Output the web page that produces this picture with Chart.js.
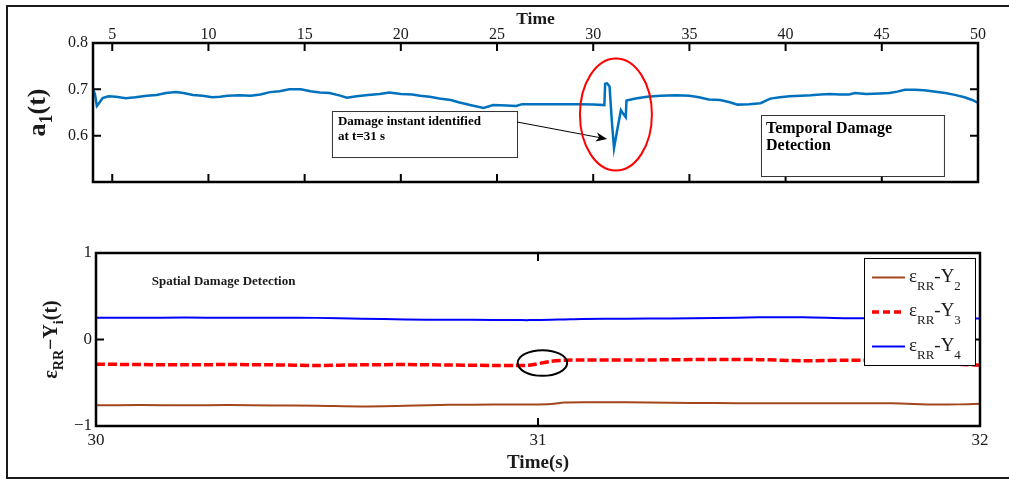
<!DOCTYPE html>
<html>
<head>
<meta charset="utf-8">
<title>Damage detection</title>
<script src="https://cdn.jsdelivr.net/npm/chart.js@4.4.1/dist/chart.umd.min.js"></script>
<style>
  html, body { margin: 0; padding: 0; background: #fff; }
  body { position: relative; width: 1009px; height: 481px; overflow: hidden; }
  #frame { position: absolute; left: 6px; top: 5px; width: 1010px; height: 470px;
           border: 2px solid #1a1a1a; border-right: none; }
  canvas { position: absolute; left: 0; }
  #a1Chart { top: 0; }
  #errChart { top: 230px; }
</style>
</head>
<body>
<div id="frame"></div>
<canvas id="a1Chart" width="1009" height="230"></canvas>
<canvas id="errChart" width="1009" height="251"></canvas>
<script>
// upper panel: identified coefficient a1(t)
const a1Time = [
  4.0, 4.1, 4.2, 4.35, 4.5, 4.8, 5.2, 5.7, 6.2, 6.8,
  7.3, 7.8, 8.3, 8.7, 9.2, 9.7, 10.2, 10.6, 11.0, 11.6,
  12.2, 12.7, 13.2, 13.7, 14.2, 14.8, 15.3, 15.8, 16.3, 16.8,
  17.2, 17.7, 18.3, 18.9, 19.4, 20.0, 20.6, 21.0, 21.5, 22.0,
  22.6, 23.0, 23.6, 24.3, 24.8, 25.5, 26.0, 26.3, 27.3, 28.0,
  28.7, 29.3, 30.0, 30.58, 30.62, 30.72, 30.85, 30.97, 31.08, 31.26,
  31.44, 31.58, 31.69, 31.73, 32.2, 32.8, 33.5, 34.3, 35.0, 35.5,
  36.0, 36.6, 37.1, 37.5, 38.1, 38.7, 39.2, 39.7, 40.2, 40.8,
  41.3, 41.8, 42.3, 42.8, 43.3, 43.6, 44.2, 44.9, 45.4, 45.8,
  46.2, 46.7, 47.2, 47.8, 48.3, 48.8, 49.3, 49.7, 50.0
];
const a1Values = [
  0.700, 0.690, 0.664, 0.672, 0.681, 0.685, 0.684, 0.681, 0.683, 0.686,
  0.688, 0.692, 0.694, 0.692, 0.688, 0.686, 0.683, 0.684, 0.686, 0.687,
  0.686, 0.689, 0.694, 0.696, 0.700, 0.700, 0.696, 0.693, 0.692, 0.687,
  0.682, 0.685, 0.688, 0.690, 0.693, 0.690, 0.689, 0.686, 0.684, 0.680,
  0.677, 0.672, 0.666, 0.660, 0.666, 0.665, 0.664, 0.668, 0.668, 0.668,
  0.668, 0.668, 0.667, 0.666, 0.712, 0.713, 0.706, 0.630, 0.573, 0.615,
  0.655, 0.646, 0.640, 0.676, 0.680, 0.684, 0.686, 0.687, 0.686, 0.683,
  0.678, 0.677, 0.672, 0.667, 0.668, 0.670, 0.680, 0.683, 0.685, 0.686,
  0.687, 0.689, 0.690, 0.689, 0.689, 0.692, 0.690, 0.691, 0.692, 0.695,
  0.699, 0.699, 0.698, 0.695, 0.692, 0.688, 0.683, 0.677, 0.671
];
const a1TimeTicks = [5, 10, 15, 20, 25, 30, 35, 40, 45, 50];
const a1ValueTicks = [0.6, 0.7, 0.8];

// lower panel: epsilon_RR - Y_i around the damage instant
const errTime = [
  30.0, 30.1, 30.2, 30.3, 30.4, 30.5, 30.6, 30.7, 30.8, 30.9,
  30.95, 30.98, 31.03, 31.06, 31.1, 31.2, 31.3, 31.4, 31.5, 31.6,
  31.7, 31.8, 31.9, 31.95, 32.0
];
const errY2 = [
  -0.760, -0.758, -0.760, -0.758, -0.762, -0.766, -0.774, -0.766, -0.755, -0.752,
  -0.752, -0.752, -0.745, -0.728, -0.724, -0.726, -0.732, -0.735, -0.736, -0.737,
  -0.736, -0.738, -0.752, -0.750, -0.742
];
const errY3 = [
  -0.285, -0.290, -0.292, -0.290, -0.293, -0.300, -0.293, -0.290, -0.295, -0.300,
  -0.300, -0.297, -0.252, -0.240, -0.238, -0.236, -0.235, -0.230, -0.233, -0.245,
  -0.240, -0.240, -0.260, -0.285, -0.297
];
const errY4 = [
  0.250, 0.252, 0.253, 0.252, 0.252, 0.250, 0.240, 0.232, 0.228, 0.226,
  0.225, 0.224, 0.228, 0.232, 0.238, 0.240, 0.243, 0.248, 0.256, 0.257,
  0.246, 0.244, 0.244, 0.243, 0.243
];
const errSeries = ['2', '3', '4'];
const errTimeTicks = [30, 31, 32];
const errValueTicks = [-1, 0, 1];

const SERIF = '"Liberation Serif", "Times New Roman", serif';
const INK = '#1a1a1a';
Chart.defaults.font.family = SERIF;
Chart.defaults.color = INK;

// text with subscripts: parts are [text, isSubscript]
function richWidth(ctx, parts, o) {
  let w = 0;
  parts.forEach(([t, sub]) => {
    ctx.font = `${o.weight} ${sub ? o.sub : o.size}px ${SERIF}`;
    w += ctx.measureText(t).width;
  });
  return w;
}
function drawRich(ctx, parts, x, y, o) {
  let cx = o.center ? x - richWidth(ctx, parts, o) / 2 : x;
  ctx.textAlign = 'left';
  ctx.textBaseline = 'alphabetic';
  parts.forEach(([t, sub]) => {
    ctx.font = `${o.weight} ${sub ? o.sub : o.size}px ${SERIF}`;
    ctx.fillText(t, cx, sub ? y + o.drop : y);
    cx += ctx.measureText(t).width;
  });
}

// box round the axes with inward ticks on every side
const framePlugin = {
  id: 'frame',
  afterDatasetsDraw(chart) {
    const { ctx, chartArea: a, scales: { x, y } } = chart;
    const len = 8;
    ctx.save();
    ctx.strokeStyle = '#000';
    ctx.lineWidth = 2;
    ctx.beginPath();
    x.ticks.forEach(t => {
      const p = x.getPixelForValue(t.value);
      ctx.moveTo(p, a.top); ctx.lineTo(p, a.top + len);
      ctx.moveTo(p, a.bottom); ctx.lineTo(p, a.bottom - len);
    });
    y.ticks.forEach(t => {
      const p = y.getPixelForValue(t.value);
      ctx.moveTo(a.left, p); ctx.lineTo(a.left + len, p);
      ctx.moveTo(a.right, p); ctx.lineTo(a.right - len, p);
    });
    ctx.stroke();
    ctx.lineWidth = 2.5;
    ctx.strokeRect(a.left, a.top, a.right - a.left, a.bottom - a.top);
    ctx.restore();
  }
};

function noteBox(ctx, x0, y0, x1, y1) {
  ctx.fillStyle = '#fff';
  ctx.fillRect(x0, y0, x1 - x0, y1 - y0);
  ctx.strokeStyle = '#333';
  ctx.lineWidth = 1;
  ctx.strokeRect(x0 + 0.5, y0 + 0.5, x1 - x0, y1 - y0);
}

const a1Notes = {
  id: 'a1Notes',
  afterDraw(chart) {
    const { ctx, chartArea: a, scales: { x, y } } = chart;
    const px = v => x.getPixelForValue(v);
    const py = v => y.getPixelForValue(v);
    ctx.save();

    // y title a1(t)
    ctx.save();
    ctx.translate(a.left - 48, (a.top + a.bottom) / 2);
    ctx.rotate(-Math.PI / 2);
    ctx.fillStyle = INK;
    drawRich(ctx, [['a', 0], ['1', 1], ['(t)', 0]], 0, 0,
      { weight: 'bold', size: 26, sub: 18, drop: 7, center: true });
    ctx.restore();

    // callout for the damage instant
    const bx0 = px(16.42), by0 = py(0.6532), bx1 = px(26.04), by1 = py(0.5539);
    noteBox(ctx, bx0, by0, bx1, by1);
    ctx.fillStyle = '#000';
    ctx.font = `bold 13px ${SERIF}`;
    ctx.textBaseline = 'alphabetic';
    ctx.fillText('Damage instant identified', bx0 + 6, by0 + 14);
    ctx.fillText('at t=31 s', bx0 + 6, by0 + 29);

    // arrow into the spike
    const ax0 = px(26.04), ay0 = py(0.6295), ax1 = px(30.72), ay1 = py(0.5928);
    const ang = Math.atan2(ay1 - ay0, ax1 - ax0);
    ctx.strokeStyle = '#000';
    ctx.lineWidth = 1;
    ctx.beginPath();
    ctx.moveTo(ax0, ay0);
    ctx.lineTo(ax1 - 8 * Math.cos(ang), ay1 - 8 * Math.sin(ang));
    ctx.stroke();
    ctx.beginPath();
    ctx.moveTo(ax1, ay1);
    ctx.lineTo(ax1 - 11 * Math.cos(ang) + 4.5 * Math.sin(ang), ay1 - 11 * Math.sin(ang) - 4.5 * Math.cos(ang));
    ctx.lineTo(ax1 - 8 * Math.cos(ang), ay1 - 8 * Math.sin(ang));
    ctx.lineTo(ax1 - 11 * Math.cos(ang) - 4.5 * Math.sin(ang), ay1 - 11 * Math.sin(ang) + 4.5 * Math.cos(ang));
    ctx.closePath();
    ctx.fillStyle = '#000';
    ctx.fill();

    // ring round the spike
    const cx = px(31.18), cy = py(0.6457);
    ctx.strokeStyle = '#ff0000';
    ctx.lineWidth = 2;
    ctx.beginPath();
    ctx.ellipse(cx, cy, px(31.18 + 1.87) - cx, cy - py(0.6457 + 0.121), 0, 0, Math.PI * 2);
    ctx.stroke();

    // temporal label
    const tx0 = px(38.72), ty0 = py(0.6446), tx1 = px(48.23), ty1 = py(0.5129);
    noteBox(ctx, tx0, ty0, tx1, ty1);
    ctx.fillStyle = '#000';
    ctx.font = `bold 16px ${SERIF}`;
    ctx.fillText('Temporal Damage', tx0 + 5, ty0 + 18);
    ctx.fillText('Detection', tx0 + 5, ty0 + 35);
    ctx.restore();
  }
};

const errNotes = {
  id: 'errNotes',
  afterDraw(chart) {
    const { ctx, chartArea: a, scales: { x, y } } = chart;
    const px = v => x.getPixelForValue(v);
    const py = v => y.getPixelForValue(v);
    ctx.save();

    // y title eps_RR - Y_i(t)
    ctx.save();
    ctx.translate(a.left - 39, (a.top + a.bottom) / 2);
    ctx.rotate(-Math.PI / 2);
    ctx.fillStyle = INK;
    drawRich(ctx, [['ε', 0], ['RR', 1], ['−Y', 0], ['i', 1], ['(t)', 0]], 0, 0,
      { weight: 'bold', size: 20, sub: 14, drop: 6, center: true });
    ctx.restore();

    ctx.fillStyle = INK;
    ctx.font = `bold 13px ${SERIF}`;
    ctx.textBaseline = 'alphabetic';
    ctx.textAlign = 'left';
    ctx.fillText('Spatial Damage Detection', px(30.126), py(0.628));

    // ring round the step in Y3
    const cx = px(31.01), cy = py(-0.272);
    ctx.strokeStyle = '#000';
    ctx.lineWidth = 2;
    ctx.beginPath();
    ctx.ellipse(cx, cy, px(31.01 + 0.056) - cx, cy - py(-0.272 + 0.148), 0, 0, Math.PI * 2);
    ctx.stroke();

    // legend
    const lw = 111, lh = 107;
    const lx = a.right - 5 - lw, ly = a.top + 5;
    ctx.fillStyle = '#fff';
    ctx.fillRect(lx, ly, lw, lh);
    ctx.strokeStyle = '#000';
    ctx.lineWidth = 1;
    ctx.strokeRect(lx + 0.5, ly + 0.5, lw, lh);
    chart.data.datasets.forEach((ds, i) => {
      const ry = ly + 19.5 + i * 34.5;
      ctx.strokeStyle = ds.borderColor;
      ctx.lineWidth = ds.borderWidth;
      ctx.setLineDash(ds.borderDash ? [7, 4] : []);
      ctx.beginPath();
      ctx.moveTo(lx + 8, ry);
      ctx.lineTo(lx + 41, ry);
      ctx.stroke();
      ctx.setLineDash([]);
      ctx.fillStyle = INK;
      drawRich(ctx, [['ε', 0], ['RR', 1], ['-Y', 0], [errSeries[i], 1]], lx + 45, ry + 4,
        { weight: 'normal', size: 19, sub: 13, drop: 8 });
    });
    ctx.restore();
  }
};

const axisFont = { size: 16, lineHeight: 1 };

new Chart(document.getElementById('a1Chart'), {
  type: 'line',
  data: {
    datasets: [{
      data: a1Time.map((t, i) => ({ x: t, y: a1Values[i] })),
      borderColor: '#0072BD',
      borderWidth: 2.5,
      pointRadius: 0,
      tension: 0
    }]
  },
  options: {
    responsive: false,
    animation: false,
    events: [],
    layout: { padding: { left: 0, top: 0, right: 31, bottom: 48 } },
    plugins: { legend: { display: false }, tooltip: { enabled: false } },
    scales: {
      x: {
        type: 'linear', position: 'top', min: 4, max: 50,
        afterBuildTicks: s => { s.ticks = a1TimeTicks.map(v => ({ value: v })); },
        afterFit: s => { s.height = 43; },
        grid: { display: false, drawTicks: false },
        border: { display: false },
        ticks: { padding: 0, font: axisFont, color: INK, maxRotation: 0, autoSkip: false },
        title: { display: true, text: 'Time', color: INK,
                 font: { size: 17.5, weight: 'bold' }, padding: { top: 9, bottom: 0 } }
      },
      y: {
        type: 'linear', min: 0.5, max: 0.8,
        afterBuildTicks: s => { s.ticks = a1ValueTicks.map(v => ({ value: v })); },
        afterFit: s => { s.width = 93; },
        grid: { display: false, drawTicks: false },
        border: { display: false },
        ticks: { padding: 5, font: { size: 16 }, color: INK, callback: v => v.toFixed(1) }
      }
    }
  },
  plugins: [framePlugin, a1Notes]
});

new Chart(document.getElementById('errChart'), {
  type: 'line',
  data: {
    datasets: [
      { data: errTime.map((t, i) => ({ x: t, y: errY2[i] })), borderColor: '#A3461C', borderWidth: 2 },
      { data: errTime.map((t, i) => ({ x: t, y: errY3[i] })), borderColor: '#ff0000', borderWidth: 3.5, borderDash: [9, 3] },
      { data: errTime.map((t, i) => ({ x: t, y: errY4[i] })), borderColor: '#0000ff', borderWidth: 2 }
    ].map(ds => Object.assign(ds, { pointRadius: 0, tension: 0.3 }))
  },
  options: {
    responsive: false,
    animation: false,
    events: [],
    layout: { padding: { left: 0, top: 23, right: 29, bottom: 0 } },
    plugins: { legend: { display: false }, tooltip: { enabled: false } },
    scales: {
      x: {
        type: 'linear', min: 30, max: 32,
        afterBuildTicks: s => { s.ticks = errTimeTicks.map(v => ({ value: v })); },
        afterFit: s => { s.height = 55; },
        grid: { display: false, drawTicks: false },
        border: { display: false },
        ticks: { padding: 4, font: { size: 17 }, color: INK, maxRotation: 0, autoSkip: false },
        title: { display: true, text: 'Time(s)', color: INK,
                 font: { size: 19, weight: 'bold' }, padding: { top: 0, bottom: 7 } }
      },
      y: {
        type: 'linear', min: -1, max: 1,
        afterBuildTicks: s => { s.ticks = errValueTicks.map(v => ({ value: v })); },
        afterFit: s => { s.width = 96; },
        grid: { display: false, drawTicks: false },
        border: { display: false },
        ticks: { padding: 4, font: { size: 17 }, color: INK,
                 callback: v => (v < 0 ? '\u2212' + (-v) : String(v)) }
      }
    }
  },
  plugins: [framePlugin, errNotes]
});
</script>
</body>
</html>
